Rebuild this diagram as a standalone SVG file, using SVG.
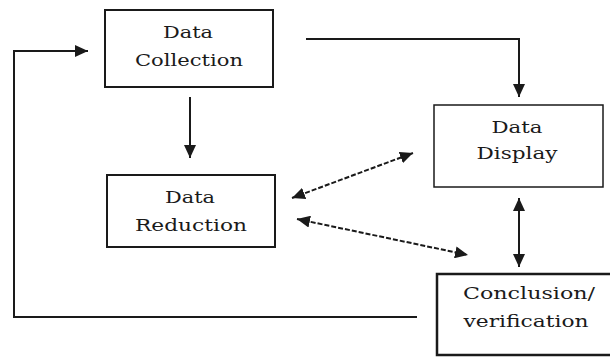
<svg xmlns="http://www.w3.org/2000/svg" width="610" height="358" viewBox="0 0 610 358">
<style>
.box{fill:#fff;stroke:#1a1a1a;stroke-width:2}
.lbl{font-family:"DejaVu Serif","Liberation Serif",serif;font-size:17px;fill:#1a1a1a;text-anchor:middle}
.ln{fill:none;stroke:#1a1a1a;stroke-width:2}
.dash{fill:none;stroke:#1a1a1a;stroke-width:2;stroke-dasharray:5 2}
</style>
<defs>
<marker id="ah" markerUnits="userSpaceOnUse" markerWidth="14" markerHeight="12" refX="13" refY="6" orient="auto-start-reverse">
<path d="M0,0 L13,6 L0,12 z" fill="#1a1a1a"/>
</marker>
</defs>
<g id="connectors">
<polyline class="ln" points="417,317 14,317 14,51 88,51" marker-end="url(#ah)"/>
<line class="ln" x1="190" y1="97" x2="190" y2="158" marker-end="url(#ah)"/>
<polyline class="ln" points="306,39 519,39 519,97" marker-end="url(#ah)"/>
<line class="dash" x1="292" y1="198" x2="413" y2="153" marker-start="url(#ah)" marker-end="url(#ah)"/>
<line class="dash" x1="297" y1="219" x2="468" y2="255" marker-start="url(#ah)" marker-end="url(#ah)"/>
<line class="ln" x1="519" y1="198" x2="519" y2="267" marker-start="url(#ah)" marker-end="url(#ah)"/>
</g>
<g id="data-collection">
<rect class="box" x="105" y="10" width="168" height="77"/>
<text class="lbl" x="188" y="38" textLength="50" lengthAdjust="spacingAndGlyphs">Data</text>
<text class="lbl" x="189" y="66" textLength="108" lengthAdjust="spacingAndGlyphs">Collection</text>
</g>
<g id="data-reduction">
<rect class="box" x="107" y="175" width="168" height="72"/>
<text class="lbl" x="190" y="203" textLength="50" lengthAdjust="spacingAndGlyphs">Data</text>
<text class="lbl" x="191" y="231" textLength="112" lengthAdjust="spacingAndGlyphs">Reduction</text>
</g>
<g id="data-display">
<rect class="box" x="434" y="105" width="169" height="82" style="stroke-width:1.5"/>
<text class="lbl" x="517" y="133" textLength="51" lengthAdjust="spacingAndGlyphs">Data</text>
<text class="lbl" x="517" y="159" textLength="81" lengthAdjust="spacingAndGlyphs">Display</text>
</g>
<g id="conclusion">
<rect class="box" x="437" y="274" width="190" height="81" style="stroke-width:2.5"/>
<text class="lbl" x="529" y="299" textLength="132" lengthAdjust="spacingAndGlyphs">Conclusion/</text>
<text class="lbl" x="526" y="327" textLength="125" lengthAdjust="spacingAndGlyphs">verification</text>
</g>
</svg>
